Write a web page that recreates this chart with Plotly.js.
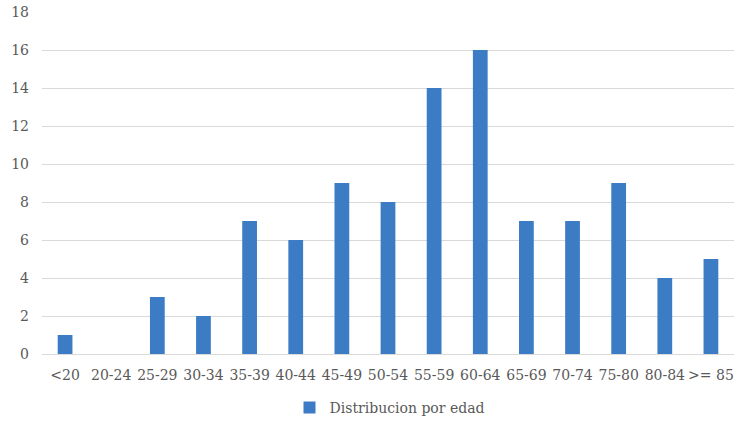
<!DOCTYPE html>
<html>
<head>
<meta charset="utf-8">
<script src="https://cdn.plot.ly/plotly-3.0.1.min.js"></script>
<style>html,body{margin:0;padding:0;background:#fff;}#chart{width:750px;height:425px;}</style>
</head>
<body>
<div id="chart"></div>
<script>
const categories = ["<20","20-24","25-29","30-34","35-39","40-44","45-49","50-54","55-59","60-64","65-69","70-74","75-80","80-84",">= 85"];
const values = [1,0,3,2,7,6,9,8,14,16,7,7,9,4,5];
const seriesName = "Distribucion por edad";
const yTicks = [0,2,4,6,8,10,12,14,16,18];

const font = "DejaVu Serif, Liberation Serif, serif";
Plotly.newPlot("chart", [{
  type: "bar",
  x: categories,
  y: values,
  name: seriesName,
  marker: {color: "#3b7cc4", line: {color: "#2f6cb0", width: 0}},
  showlegend: true
}], {
  width: 750, height: 425,
  margin: {l: 42, r: 16, t: 12, b: 71},
  paper_bgcolor: "#fff", plot_bgcolor: "#fff",
  bargap: 0.68,
  font: {family: font, size: 14, color: "#595959"},
  xaxis: {type: "category", showgrid: false, showline: true, linecolor: "#d9d9d9", linewidth: 1, ticks: "", ticklabelstandoff: 8, tickfont: {size: 14}, fixedrange: true, automargin: false},
  yaxis: {range: [0, 18], tickvals: yTicks, showgrid: true, gridcolor: "#d9d9d9", gridwidth: 1, zeroline: false, showline: false, ticks: "", ticklabelstandoff: 12, tickfont: {size: 14}, fixedrange: true, automargin: false},
  legend: {orientation: "h", x: 0.52, xanchor: "center", xref: "container", y: 0.04, yanchor: "middle", yref: "container", font: {size: 14, color: "#595959"}, itemwidth: 30},
  showlegend: true
}, {displayModeBar: false, staticPlot: true});
</script>
</body>
</html>
